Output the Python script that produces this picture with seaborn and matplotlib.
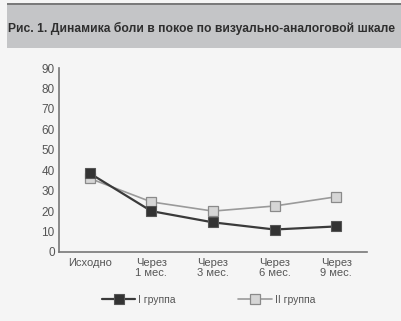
import pandas as pd
import matplotlib.pyplot as plt
import seaborn as sns
from matplotlib.patches import Rectangle

# data (VAS pain score at rest)
categories = ['Исходно', 'Через\n1 мес.', 'Через\n3 мес.', 'Через\n6 мес.', 'Через\n9 мес.']
group1 = [38.5, 20, 14.5, 11, 12.5]
group2 = [36, 24.5, 20, 22.5, 27]
yticks = [0, 10, 20, 30, 40, 50, 60, 70, 80, 90]

df = pd.DataFrame({
    'pos': list(range(len(categories))) * 2,
    'value': group1 + group2,
    'group': ['I группа'] * len(group1) + ['II группа'] * len(group2),
})

sns.set_style('white')
plt.rcParams['font.family'] = ['Liberation Sans', 'DejaVu Sans']

fig = plt.figure(figsize=(4.01, 3.21), dpi=100, facecolor='#f5f5f5')
ax = fig.add_axes([0.147, 0.215, 0.768, 0.573])
ax.set_facecolor('#f5f5f5')

sns.lineplot(data=df[df.group == 'I группа'], x='pos', y='value', ax=ax,
             color='#3a3a3a', lw=1.6, marker='s', markersize=7.5,
             markerfacecolor='#333333', markeredgecolor='#555555', markeredgewidth=0.8,
             label='I группа', sort=False)
sns.lineplot(data=df[df.group == 'II группа'], x='pos', y='value', ax=ax,
             color='#9a9a9a', lw=1.2, marker='s', markersize=7.5,
             markerfacecolor='#d6d6d6', markeredgecolor='#8a8a8a', markeredgewidth=0.9,
             label='II группа', sort=False, zorder=1)

ax.set_xlim(-0.5, 4.5)
ax.set_ylim(0, 90)
ax.set_yticks(yticks)
ax.set_xticks(range(len(categories)))
ax.set_xticklabels(categories, fontsize=8, color='#555555', linespacing=1.0)
ax.set_xticks([0.5, 1.5, 2.5, 3.5, 4.5], minor=True)
ax.tick_params(axis='x', which='major', length=0, pad=4)
ax.tick_params(axis='x', which='minor', length=5, direction='in', color='#777777', width=1)
ax.tick_params(axis='y', length=5, direction='in', color='#777777', width=1,
               labelsize=8.5, labelcolor='#555555', pad=3)
ax.set_xlabel('')
ax.set_ylabel('')
for s in ['top', 'right']:
    ax.spines[s].set_visible(False)
for s in ['left', 'bottom']:
    ax.spines[s].set_color('#777777')
    ax.spines[s].set_linewidth(1.2)

handles, labels = ax.get_legend_handles_labels()
ax.legend_.remove()
fig.legend(handles, labels, loc='center', bbox_to_anchor=(0.52, 0.065), ncol=2,
           frameon=False, fontsize=7.5, handlelength=3.2, columnspacing=6,
           labelcolor='#555555', handletextpad=0.3)

# title band
fig.add_artist(Rectangle((7 / 401, 1 - 48 / 321), 1, 45 / 321, transform=fig.transFigure,
                         facecolor='#c4c5c7', edgecolor='none'))
fig.add_artist(Rectangle((7 / 401, 1 - 5 / 321), 1, 2 / 321, transform=fig.transFigure,
                         facecolor='#7a7a7a', edgecolor='none'))
fig.text(8 / 401, 1 - 28 / 321, 'Рис. 1. Динамика боли в покое по визуально-аналоговой шкале',
         fontsize=8.7, fontweight='bold', color='#2e2e2e', va='center', ha='left')

fig.savefig('out.png', dpi=100, facecolor=fig.get_facecolor())
